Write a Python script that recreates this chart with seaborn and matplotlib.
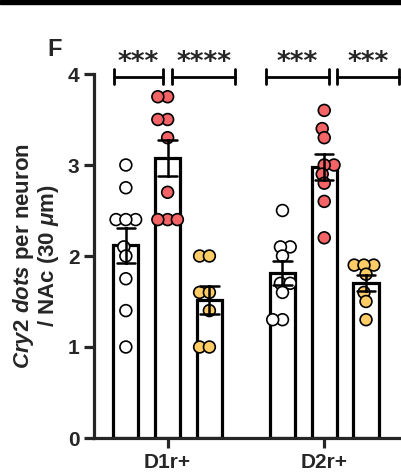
import numpy as np
import pandas as pd
import matplotlib
matplotlib.use('Agg')
import matplotlib.pyplot as plt
from matplotlib.patches import Rectangle
import seaborn as sns

# values (Cry2 dots per neuron)
cell_types = ['D1r+', 'D2r+']
groups = ['Group 1', 'Group 2', 'Group 3']
colors = ['white', '#F46466', '#FFCC66']

d1_g1 = [3.0, 2.75, 2.4, 2.4, 2.4, 2.1, 2.0, 1.75, 1.4, 1.0]
d1_g2 = [3.75, 3.75, 3.5, 3.5, 3.3, 2.7, 2.4, 2.4, 2.4]
d1_g3 = [2.0, 2.0, 1.6, 1.6, 1.4, 1.0, 1.0]
d2_g1 = [2.5, 2.1, 2.1, 2.0, 1.7, 1.7, 1.6, 1.3, 1.3]
d2_g2 = [3.6, 3.4, 3.3, 3.0, 3.0, 2.9, 2.8, 2.6, 2.2]
d2_g3 = [1.9, 1.9, 1.9, 1.8, 1.6, 1.5, 1.3]

star_labels = ['***', '****', '***', '***']

# build long table
rows = []
for cell, series in zip(cell_types, [[d1_g1, d1_g2, d1_g3], [d2_g1, d2_g2, d2_g3]]):
    for grp, vals in zip(groups, series):
        for v in vals:
            rows.append({'cell': cell, 'group': grp, 'value': v})
df = pd.DataFrame(rows)

sns.set_style('ticks')
plt.rcParams['font.family'] = ['Liberation Sans', 'DejaVu Sans']
plt.rcParams['font.weight'] = 'bold'
plt.rcParams['mathtext.fontset'] = 'custom'
plt.rcParams['mathtext.rm'] = 'Liberation Sans:bold'
plt.rcParams['mathtext.bf'] = 'Liberation Sans:bold'
plt.rcParams['mathtext.it'] = 'Liberation Sans:italic:bold'

fig = plt.figure(figsize=(4.01, 4.74), dpi=100)
ax = fig.add_axes([94 / 401, 36 / 474, 307 / 401, 364 / 474])

sns.barplot(data=df, x='cell', y='value', hue='group', order=cell_types, hue_order=groups,
            palette={g: 'white' for g in groups}, errorbar='se', capsize=0.35, gap=0.4,
            edgecolor='black', linewidth=2.3, err_kws={'color': 'black', 'linewidth': 1.8},
            legend=False, ax=ax)
# swarm laid out with a smaller marker so points overlap a little, like the original
sns.swarmplot(data=df, x='cell', y='value', hue='group', order=cell_types, hue_order=groups,
              palette=dict(zip(groups, colors)), dodge=True, size=5.5, edgecolor='black',
              linewidth=1.2, legend=False, ax=ax)

ax.set_ylim(0, 4)
ax.set_xlim(-0.47, 1.49)
fig.canvas.draw()
for c in ax.collections:
    if 'draw' in c.__dict__:
        del c.draw
    c.set_sizes([8.5 ** 2])
    c.set_zorder(2)
for ln in ax.lines:
    ln.set_zorder(3)

ax.set_yticks([0, 1, 2, 3, 4])
ax.tick_params(axis='both', width=2.3, length=7, labelsize=15)
for lab in ax.get_xticklabels() + ax.get_yticklabels():
    lab.set_fontweight('bold')
ax.set_xlabel('')
ax.set_ylabel('$\\mathit{Cry2\\ dots}$ per neuron\n/ NAc (30 $\\mathit{\\mu}$m)',
              fontsize=16, fontweight='bold', linespacing=1.0, labelpad=5)
sns.despine(ax=ax)
for side in ['left', 'bottom']:
    ax.spines[side].set_linewidth(2.3)

# significance brackets
brackets = [(-0.34, -0.03), (0.03, 0.43), (0.63, 1.03), (1.08, 1.48)]
for (x0, x1), lab in zip(brackets, star_labels):
    ax.plot([x0, x1], [3.97, 3.97], color='black', lw=2, clip_on=False)
    for xx in (x0, x1):
        ax.plot([xx, xx], [3.89, 4.05], color='black', lw=2, clip_on=False)
    ax.text((x0 + x1) / 2, 3.98, lab, ha='center', va='bottom',
            fontsize=19, fontweight='bold', family='DejaVu Sans')

fig.text(47 / 401, 1 - 50 / 474, 'F', fontsize=17, fontweight='bold', va='center')
fig.add_artist(Rectangle((0, 1 - 4 / 474), 1, 4 / 474, transform=fig.transFigure,
                         color='black'))

fig.savefig('out.png', dpi=100)
